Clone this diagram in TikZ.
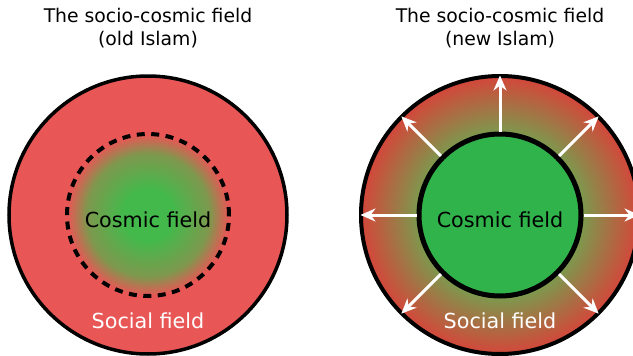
\documentclass[tikz,border=0pt]{standalone}
\usepackage{fontspec}
\setmainfont{DejaVu Sans}
\usepackage{xcolor}
\usepackage{tikz}
\usetikzlibrary{arrows.meta, positioning, shapes.geometric}
\definecolor{socialred}{HTML}{E95656}
\definecolor{ringred}{HTML}{D4463A}
\definecolor{ringolive}{HTML}{7A9B4E}
\definecolor{coreolive}{HTML}{7E984D}
\definecolor{cosmicgreen}{HTML}{30B34B}
\definecolor{coregreen}{HTML}{44B94B}
\pgfdeclareradialshading{corefade}{\pgfpoint{0bp}{0bp}}{color(0bp)=(coregreen); color(8bp)=(coregreen); color(19bp)=(coreolive); color(25bp)=(socialred); color(50bp)=(socialred)}
\pgfdeclareradialshading{ringfade}{\pgfpoint{0bp}{0bp}}{color(0bp)=(cosmicgreen); color(14.5bp)=(ringolive); color(25bp)=(ringred); color(50bp)=(ringred)}
\tikzset{
  field/.style={circle, inner sep=0pt, draw=black},
  socialdisc/.style={field, line width=3.5pt, minimum size=278pt},
  cosmicdisc/.style={field, minimum size=162pt},
  fieldtext/.style={anchor=base, inner sep=0pt, font=\fontsize{20.7}{24}\selectfont},
  caption/.style={anchor=north, align=center, inner sep=0pt, font=\fontsize{18.8}{23}\selectfont},
  flow/.style={-{Stealth[length=15pt, width=13pt]}, draw=white, line width=3pt, shorten >=1.5pt}
}
\begin{document}
\begin{tikzpicture}[x=1pt, y=-1pt]
    \clip (0,0) rectangle (633,356);
    \fill[white] (0,0) rectangle (633,356);
    % old Islam
    \node[socialdisc, fill=socialred] (oldsocial) at (148,215) {};
    \node[cosmicdisc, shading=corefade, line width=4pt, dash pattern=on 8pt off 6.5pt] (oldcosmic) at (148,215) {};
    \node[fieldtext] (oldcosmictext) at (148,227) {Cosmic field};
    \node[fieldtext, text=white] (oldsocialtext) at (148,328) {Social field};
    \node[caption] (oldtitle) at (148,8.4) {The socio-cosmic field\\(old Islam)};
    % new Islam
    \node[socialdisc, line width=4pt, shading=ringfade] (newsocial) at (500,215) {};
    \node[cosmicdisc, fill=cosmicgreen, line width=5pt] (newcosmic) at (500,215) {};
    \foreach \ang in {0,45,90,135,180,225,315}
      \draw[flow] (newcosmic.\ang) -- (newsocial.\ang);
    \node[fieldtext] (newcosmictext) at (500,227) {Cosmic field};
    \node[fieldtext, text=white] (newsocialtext) at (500,328) {Social field};
    \node[caption] (newtitle) at (500,8.4) {The socio-cosmic field\\(new Islam)};
  \end{tikzpicture}
\end{document}
